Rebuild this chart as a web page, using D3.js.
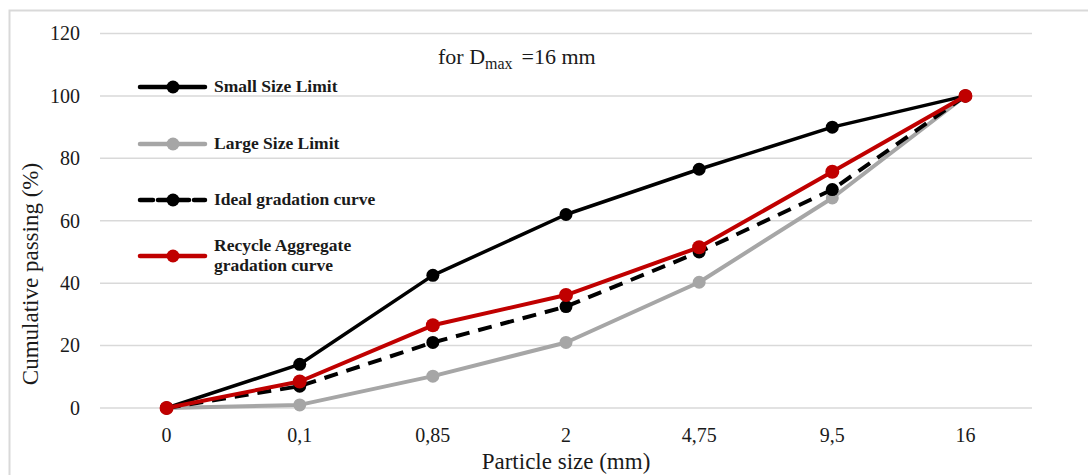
<!DOCTYPE html>
<html><head><meta charset="utf-8">
<script src="https://cdn.jsdelivr.net/npm/d3@7"></script>
<style>body{margin:0;background:#fff}svg{display:block}</style>
</head><body>
<svg id="c" width="1088" height="475"></svg>
<script>
const categories = ["0","0,1","0,85","2","4,75","9,5","16"];
const smallLimit = [0, 14, 42.5, 62, 76.5, 90, 100];
const largeLimit = [0, 1, 10.2, 21, 40.3, 67.3, 100];
const idealCurve = [0, 7, 21, 32.5, 50, 70, 100];
const recycleCurve = [0, 8.5, 26.5, 36.2, 51.5, 75.7, 100];
const yTicks = [0, 20, 40, 60, 80, 100, 120];

const series = [
  {name:["Small Size Limit"], values: smallLimit, color:"#000000", width:3.5, dash:null, r:6.5, ly:87},
  {name:["Large Size Limit"], values: largeLimit, color:"#a6a6a6", width:4, dash:null, r:6.5, ly:144},
  {name:["Ideal gradation curve"], values: idealCurve, color:"#000000", width:4, dash:"14,9", r:6.5, ly:200},
  {name:["Recycle Aggregate","gradation curve"], values: recycleCurve, color:"#c00000", width:4, dash:null, r:7, ly:256}
];

const svg = d3.select("#c");
const serif = "Liberation Serif, Times New Roman, serif";
const txtCol = "#1a1a1a";

// outer frame
svg.append("path").attr("d","M9.5,475 V10.5 H1088").attr("fill","none").attr("stroke","#d9d9d9").attr("stroke-width",2);

const x = d3.scaleBand().domain(categories).range([100, 1032]);
const y = d3.scaleLinear().domain([0,120]).range([408, 33.5]);

// gridlines
svg.append("g").selectAll("line").data(yTicks).join("line")
  .attr("x1",100).attr("x2",1032)
  .attr("y1",d=>y(d)).attr("y2",d=>y(d))
  .attr("stroke","#d9d9d9").attr("stroke-width",1.5);

// y axis
const ya = svg.append("g").attr("transform","translate(100,0)")
  .call(d3.axisLeft(y).tickValues(yTicks).tickSize(0).tickPadding(20));
ya.select(".domain").remove();
ya.selectAll("text").attr("font-family",serif).attr("font-size",20).attr("fill",txtCol);

// x axis
const xa = svg.append("g").attr("transform","translate(0,408)")
  .call(d3.axisBottom(x).tickSize(0).tickPadding(20));
xa.select(".domain").remove();
xa.selectAll("text").attr("font-family",serif).attr("font-size",20).attr("fill",txtCol);

// axis titles
svg.append("text").attr("x",566).attr("y",469).attr("text-anchor","middle")
  .attr("font-family",serif).attr("font-size",23).attr("fill",txtCol).text("Particle size (mm)");
svg.append("text").attr("transform","translate(38,274) rotate(-90)").attr("text-anchor","middle")
  .attr("font-family",serif).attr("font-size",23).attr("fill",txtCol).text("Cumulative passing (%)");

// title
const t = svg.append("text").attr("x",438).attr("y",64)
  .attr("font-family",serif).attr("font-size",22).attr("fill",txtCol);
t.append("tspan").text("for D");
t.append("tspan").attr("font-size",16).attr("dy",5).text("max");
t.append("tspan").attr("dy",-5).attr("dx",9).text("=16 mm");

// lines
const cx = i => x(categories[i]) + x.bandwidth()/2;
const line = d3.line().x((d,i)=>cx(i)).y(d=>y(d));
series.forEach(s=>{
  const g = svg.append("g");
  g.append("path").attr("d", line(s.values)).attr("fill","none")
    .attr("stroke", s.color).attr("stroke-width", s.width)
    .attr("stroke-dasharray", s.dash).attr("stroke-linejoin","round");
  g.selectAll("circle").data(s.values).join("circle")
    .attr("cx",(d,i)=>cx(i)).attr("cy",d=>y(d)).attr("r",s.r).attr("fill",s.color);
});

// legend
series.forEach(s=>{
  const g = svg.append("g");
  g.append("line").attr("x1",140).attr("x2",205).attr("y1",s.ly).attr("y2",s.ly)
    .attr("stroke",s.color).attr("stroke-width",4.5).attr("stroke-dasharray", s.dash ? "13,5" : null)
    .attr("stroke-linecap","round");
  g.append("circle").attr("cx",173).attr("cy",s.ly).attr("r",6.5).attr("fill",s.color);
  const tx = g.append("text").attr("x",214).attr("font-family",serif).attr("font-weight","bold")
    .attr("font-size",17.5).attr("fill",txtCol);
  if (s.name.length === 1) {
    tx.attr("y", s.ly + 5).text(s.name[0]);
  } else {
    tx.attr("y", s.ly - 5);
    tx.append("tspan").attr("x",214).text(s.name[0]);
    tx.append("tspan").attr("x",214).attr("dy",20).text(s.name[1]);
  }
});
</script>
</body></html>
